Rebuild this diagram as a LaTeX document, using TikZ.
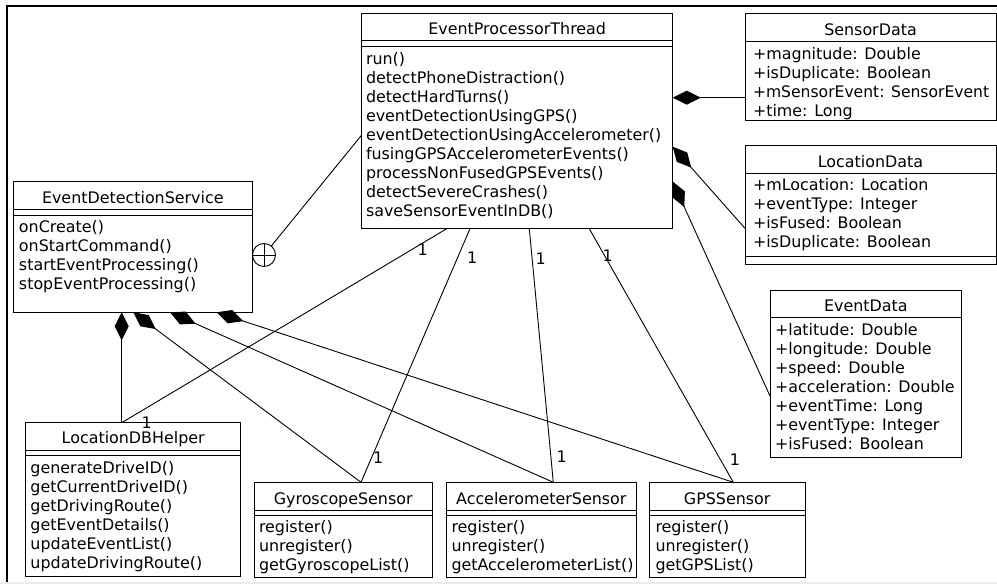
\documentclass[tikz,border=0pt]{standalone}
\usepackage{fontspec}
\usepackage{graphicx}
\setmainfont{DejaVu Sans}
\usetikzlibrary{arrows.meta}
\begin{document}
\begin{tikzpicture}[x=1pt,y=-1pt,
  every node/.style={inner sep=0pt, outer sep=0pt},
  umlbox/.style={draw, line width=1pt, anchor=north west},
  sepline/.style={line width=1pt},
  txt/.style={anchor=base west, font=\fontsize{15.9}{19}\selectfont},
  ttl/.style={anchor=base, font=\fontsize{15.9}{19}\selectfont},
  mult/.style={anchor=base, font=\fontsize{15.9}{19}\selectfont},
  ln/.style={line width=0.9pt},
  comp/.style={ln, {Diamond[length=28pt,width=14pt]}-}]
\useasboundingbox (0,0) rectangle (997,584);
% frame
\draw[line width=2.5pt] (7,584) -- (7,6) -- (997,6);
\draw[black!8, line width=2pt] (0,583) -- (997,583);

\newcommand\mkbox[5]{\node[umlbox, minimum width={#4-#2}, minimum height={#5-#3}] (#1) at (#2,#3) {};}
\newcommand\mksep[2]{\draw[sepline] (#1.west |- 0,#2) -- (#1.east |- 0,#2);}

% boxes
\mkbox{eds}{13.3}{181.7}{252.3}{312.3}
\mkbox{ept}{361.7}{13.3}{672.7}{228.7}
\mkbox{sd}{745}{13.3}{996}{120}
\mkbox{ld}{745}{145.7}{996}{264.3}
\mkbox{ed}{770}{290}{961.7}{457.3}
\mkbox{ldh}{25.7}{422.7}{240.7}{576.7}
\mkbox{gyro}{254}{482.3}{432.3}{577}
\mkbox{acc}{446}{482.3}{636.7}{577}
\mkbox{gps}{649.3}{482.3}{805}{577}

\mksep{eds}{209}\mksep{eds}{215}
\mksep{ept}{40.7}\mksep{ept}{46.7}
\mksep{sd}{41.7}
\mksep{ld}{173.3}\mksep{ld}{256}
\mksep{ed}{317.7}
\mksep{ldh}{450}\mksep{ldh}{455.7}
\mksep{gyro}{510}\mksep{gyro}{515}
\mksep{acc}{510}\mksep{acc}{515}
\mksep{gps}{510}\mksep{gps}{515}

% titles
\node[ttl] (eds-t) at (132.8,203.5) {EventDetectionService};
\node[ttl] (ept-t) at (517.2,34.4) {EventProcessorThread};
\node[ttl] (sd-t) at (870.5,35.2) {SensorData};
\node[ttl] (ld-t) at (870.5,167) {LocationData};
\node[ttl] (ed-t) at (865.8,311.5) {EventData};
\node[ttl] (ldh-t) at (133.2,443.5) {LocationDBHelper};
\node[ttl] (gyro-t) at (343.2,504) {GyroscopeSensor};
\node[ttl] (acc-t) at (541.3,504) {AccelerometerSensor};
\node[ttl] (gps-t) at (727.2,504) {GPSSensor};

% members
\foreach \mtext [count=\i from 0] in {onCreate(),onStartCommand(),startEventProcessing(),stopEventProcessing()}
  \node[txt] (eds-m\i) at (19,{232.5+19*\i}) {\mtext};
\foreach \mtext [count=\i from 0] in {run(),detectPhoneDistraction(),detectHardTurns(),eventDetectionUsingGPS(),eventDetectionUsingAccelerometer(),fusingGPSAccelerometerEvents(),processNonFusedGPSEvents(),detectSevereCrashes(),saveSensorEventInDB()}
  \node[txt] (ept-m\i) at (366,{64.5+19*\i}) {\mtext};
\foreach \mtext [count=\i from 0] in {+magnitude: Double,+isDuplicate: Boolean,{\scalebox{0.98}[1]{+mSensorEvent: SensorEvent}},+time: Long}
  \node[txt] (sd-a\i) at (753,{59.2+19*\i}) {\mtext};
\foreach \mtext [count=\i from 0] in {+mLocation: Location,+eventType: Integer,+isFused: Boolean,+isDuplicate: Boolean}
  \node[txt] (ld-a\i) at (753,{190.8+19*\i}) {\mtext};
\foreach \mtext [count=\i from 0] in {+latitude: Double,+longitude: Double,+speed: Double,+acceleration: Double,+eventTime: Long,+eventType: Integer,+isFused: Boolean}
  \node[txt] (ed-a\i) at (775,{335.2+19*\i}) {\mtext};
\foreach \mtext [count=\i from 0] in {generateDriveID(),getCurrentDriveID(),getDrivingRoute(),getEventDetails(),updateEventList(),updateDrivingRoute()}
  \node[txt] (ldh-m\i) at (30.5,{473.2+19*\i}) {\mtext};
\foreach \mtext [count=\i from 0] in {register(),unregister(),getGyroscopeList()}
  \node[txt] (gyro-m\i) at (259,{532.5+19*\i}) {\mtext};
\foreach \mtext [count=\i from 0] in {register(),unregister(),getAccelerometerList()}
  \node[txt] (acc-m\i) at (451.5,{532.5+19*\i}) {\mtext};
\foreach \mtext [count=\i from 0] in {register(),unregister(),getGPSList()}
  \node[txt] (gps-m\i) at (655.5,{532.5+19*\i}) {\mtext};

% nesting
\node[draw, circle, line width=0.9pt, minimum size=23pt] (nest) at (264,255) {};
\draw[ln] (nest.north) -- (nest.south) (nest.west) -- (nest.east);
\draw[ln] (ept.west |- 0,135) -- (nest);

% compositions
\draw[comp] (ept.east |- 0,97.7) -- (sd.west |- 0,97.7);
\draw[comp] (ept.east |- 0,146.7) -- (ld.west |- 0,228.3);
\draw[comp] (ept.east |- 0,181.5) -- (ed.west |- 0,396);
\draw[comp] (eds.south -| 121.7,0) -- (ldh.north -| 121.7,0);
\draw[comp] (eds.south -| 133.3,0) -- (gyro.north -| 361,0);
\draw[comp] (eds.south -| 170,0) -- (acc.north -| 553.3,0);
\draw[comp] (eds.south -| 216.7,0) -- (gps.north -| 733.3,0);

% associations
\draw[ln] (ept.south -| 446.7,0) -- (ldh.north -| 121.7,0);
\draw[ln] (ept.south -| 470,0) -- (gyro.north -| 361,0);
\draw[ln] (ept.south -| 529.3,0) -- (acc.north -| 553.3,0);
\draw[ln] (ept.south -| 589.3,0) -- (gps.north -| 733.3,0);

% multiplicities
\node[mult] (m1) at (422.7,255) {1};
\node[mult] (m2) at (146.7,428) {1};
\node[mult] (m3) at (472.3,263) {1};
\node[mult] (m4) at (378.3,463) {1};
\node[mult] (m5) at (540.7,264) {1};
\node[mult] (m6) at (561.7,462) {1};
\node[mult] (m7) at (607.7,261) {1};
\node[mult] (m8) at (735,465) {1};
\end{tikzpicture}
\end{document}
